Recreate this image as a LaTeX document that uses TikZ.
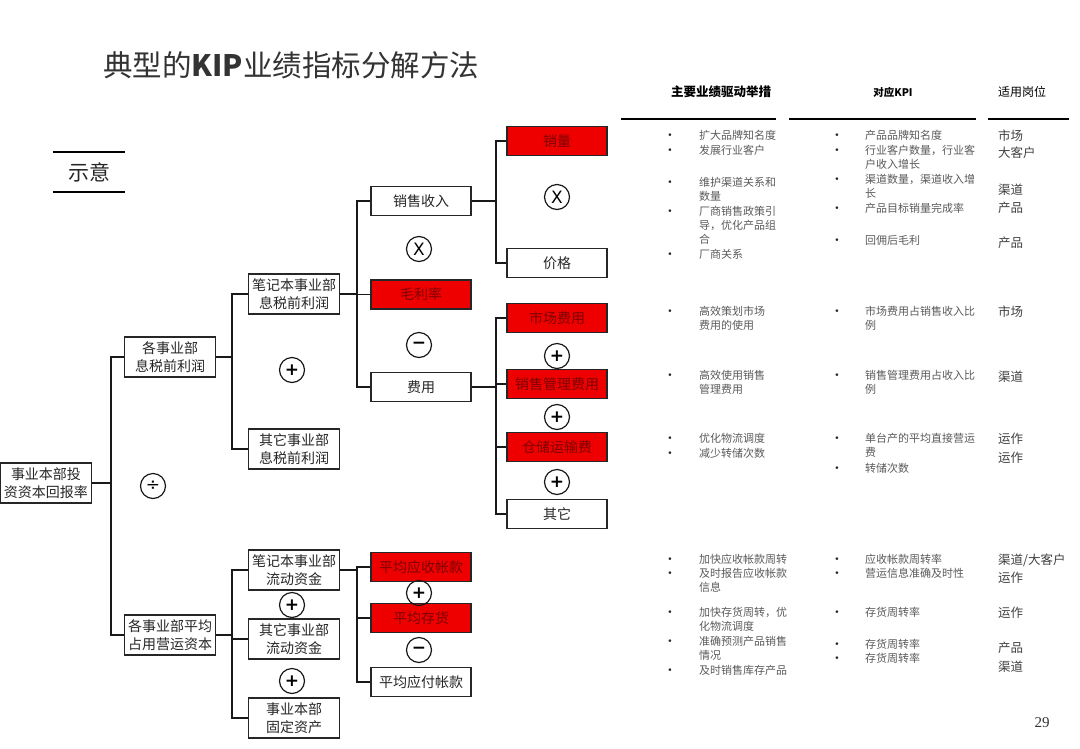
\documentclass[tikz,border=0pt]{standalone}
\usepackage{fontspec}
\setmainfont{Noto Sans CJK SC}
\newfontfamily\symfont{DejaVu Sans}
\newfontfamily\numfont{Liberation Serif}
\usetikzlibrary{shapes}
\definecolor{boxred}{RGB}{238,0,0}
\definecolor{redtext}{RGB}{125,0,0}
\definecolor{tblgray}{RGB}{90,90,90}
\tikzstyle{box}=[draw=black!85,line width=1.4pt,fill=white,text=black!85,font=\fontsize{14}{18}\selectfont,align=center,inner sep=0pt]
\tikzstyle{wide box}=[box,minimum width=91pt,minimum height=40pt]
\tikzstyle{leaf box}=[box,minimum width=100pt,minimum height=29pt]
\tikzstyle{red box}=[leaf box,fill=boxred,text=redtext]
\tikzstyle{op}=[circle,draw=black!90,line width=1.2pt,minimum size=25pt,inner sep=0pt,font=\symfont\fontsize{17}{17}\selectfont]
\tikzstyle{edge}=[draw,line width=1.8pt,black!90,-]
\tikzstyle{drv}=[anchor=north west,inner sep=0pt,text=tblgray,align=left,font=\fontsize{11}{13.8}\selectfont]
\tikzstyle{dot}=[inner sep=0pt,text=black!85,font=\symfont\fontsize{9}{9}\selectfont]
\tikzstyle{post}=[anchor=west,inner sep=0pt,text=black!75,font=\fontsize{12.5}{14}\selectfont]

\begin{document}
\begin{tikzpicture}[x=1pt,y=-1pt]
    \useasboundingbox (0,0) rectangle (1080,748);
    % Title and legend
    \node[anchor=west,inner sep=0pt,text=black!80,font=\fontsize{29.5}{32}\selectfont] (title) at (103,65) {典型的{\bfseries KIP}业绩指标分解方法};
    \node[inner sep=0pt,minimum width=72pt,minimum height=40pt,text=black!85,font=\fontsize{21}{22}\selectfont] (legend) at (89,172) {示意};
    \draw[line width=1.5pt] (legend.north west) -- (legend.north east);
    \draw[line width=1.5pt] (legend.south west) -- (legend.south east);

    % First we draw the boxes of the tree
    \foreach \pos/\name/\txt in {{(46,483)/root/{事业本部投\\资资本回报率}},
        {(170,357)/ebit/{各事业部\\息税前利润}}, {(170,635)/wc/{各事业部平均\\占用营运资本}},
        {(294,294)/nbebit/{笔记本事业部\\息税前利润}}, {(294,449)/othebit/{其它事业部\\息税前利润}},
        {(294,570)/nbwc/{笔记本事业部\\流动资金}}, {(294,639)/othwc/{其它事业部\\流动资金}},
        {(294,718)/fixed/{事业本部\\固定资产}}}
        \node[wide box] (\name) at \pos {\txt};

    \foreach \pos/\name/\txt in {{(421,201)/rev/销售收入}, {(421,387)/cost/费用},
        {(557,263)/price/价格}, {(557,514)/other/其它}, {(421,682)/ap/平均应付帐款}}
        \node[leaf box] (\name) at \pos {\txt};

    \foreach \pos/\name/\txt in {{(421,294.5)/gm/毛利率}, {(557,141)/vol/销量},
        {(557,318)/mkt/市场费用}, {(557,384)/sga/销售管理费用}, {(557,447)/whs/仓储运输费},
        {(421,567)/ar/平均应收帐款}, {(421,618)/inv/平均存货}}
        \node[red box] (\name) at \pos {\txt};

    % Operators between the boxes
    \foreach \pos/\name/\sym in {{(153,486)/div/÷}, {(292,370)/plusa/\textbf{+}},
        {(419,249)/timesa/X}, {(419,345)/minusa/\textbf{−}}, {(557,197)/timesb/X},
        {(557,356)/plusb/\textbf{+}}, {(557,417)/plusc/\textbf{+}}, {(557,482)/plusd/\textbf{+}},
        {(292,605)/pluse/\textbf{+}}, {(292,681)/plusf/\textbf{+}},
        {(419,593)/plusg/\textbf{+}}, {(419,650)/minusb/\textbf{−}}}
        \node[op] (\name) at \pos {\sym};

    % Connect boxes with elbow edges
    \foreach \source/\dest/\dx in {root/ebit/19, root/wc/19, ebit/nbebit/16, ebit/othebit/16,
        nbebit/rev/17, nbebit/gm/17, nbebit/cost/17, rev/vol/24, rev/price/24,
        cost/mkt/24, cost/sga/24, cost/whs/24, cost/other/24,
        wc/nbwc/16, wc/othwc/16, wc/fixed/16, nbwc/ar/17, nbwc/inv/17, nbwc/ap/17}
        \path[edge] (\source.east) -- ++(\dx,0) |- (\dest.west);

    % Table on the right
    \node[inner sep=0pt,font=\bfseries\fontsize{12.5}{14}\selectfont] (hdrdrv) at (721,92) {主要业绩驱动举措};
    \node[inner sep=0pt,font=\bfseries\fontsize{10.5}{12}\selectfont] (hdrkpi) at (893,92) {对应KPI};
    \node[inner sep=0pt,font=\fontsize{12}{14}\selectfont] (hdrpost) at (1022,92) {适用岗位};
    \draw[line width=1.5pt] (621,119) -- (776,119);
    \draw[line width=1.5pt] (789,119) -- (976,119);
    \draw[line width=1.5pt] (988,119) -- (1069,119);

    \foreach \y/\t in {136/扩大品牌知名度, 151/发展行业客户, 183/{维护渠道关系和\\数量},
        212/{厂商销售政策引\\导，优化产品组\\合}, 255/厂商关系, 312/{高效策划市场\\费用的使用},
        376/{高效使用销售\\管理费用}, 439/优化物流调度, 454/减少转储次数,
        560/加快应收帐款周转, 574/{及时报告应收帐款\\信息}, 613/{加快存货周转，优\\化物流调度},
        642/{准确预测产品销售\\情况}, 671/及时销售库存产品}
    {
        \node[dot] at (670,\y) {•};
        \node[drv] at (699,\y-6) {\t};
    }

    \foreach \y/\t in {136/产品品牌知名度, 151/{行业客户数量，行业客\\户收入增长},
        180/{渠道数量，渠道收入增\\长}, 209/产品目标销量完成率, 241/回佣后毛利,
        312/{市场费用占销售收入比\\例}, 376/{销售管理费用占收入比\\例},
        439/{单台产的平均直接营运\\费}, 469/转储次数, 560/应收帐款周转率,
        574/营运信息准确及时性, 613/存货周转率, 645/存货周转率, 659/存货周转率}
    {
        \node[dot] at (837,\y) {•};
        \node[drv] at (865,\y-6) {\t};
    }

    \foreach \y/\t in {136/市场, 153/大客户, 190/渠道, 208/产品, 243/产品, 312/市场,
        377/渠道, 439/运作, 458/运作, 560/{渠道/大客户}, 578/运作, 613/运作, 648/产品, 667/渠道}
        \node[post] at (998,\y) {\t};

    \node[inner sep=0pt,text=black!80,font=\numfont\fontsize{15}{16}\selectfont] (page) at (1042,723) {29};
\end{tikzpicture}
\end{document}
